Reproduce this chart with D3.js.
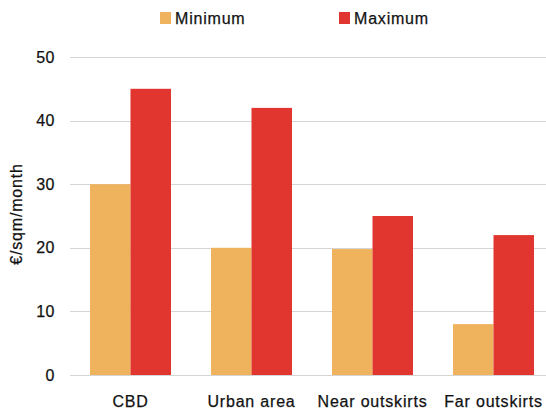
<!DOCTYPE html>
<html>
<head>
<meta charset="utf-8">
<script src="https://cdn.jsdelivr.net/npm/d3@7"></script>
<style>
  html, body { margin: 0; padding: 0; background: #fff; }
  svg { display: block; }
  text { font-family: "Liberation Sans", Arial, Helvetica, sans-serif; fill: #111; }
</style>
</head>
<body>
<svg id="chart" width="546" height="410"></svg>
<script>
// Office rent ranges by location (€/sqm/month)
const categories = ["CBD", "Urban area", "Near outskirts", "Far outskirts"];
const seriesNames = ["Minimum", "Maximum"];
const minimumValues = [30, 20, 19.8, 8];
const maximumValues = [45, 42, 25, 22];
const yTicks = [0, 10, 20, 30, 40, 50];
const yTitle = "€/sqm/month";

const colors = { Minimum: "#EFB25D", Maximum: "#E0362F" };

const rows = categories.map((c, i) => ({
  category: c,
  Minimum: minimumValues[i],
  Maximum: maximumValues[i]
}));

const svg = d3.select("#chart");
const plot = { left: 70, right: 554, top: 57, bottom: 375 };

const x = d3.scaleBand()
  .domain(categories)
  .range([plot.left, plot.right])
  .paddingInner(40 / 121)
  .paddingOuter(20 / 121);

const xSub = d3.scaleBand()
  .domain(seriesNames)
  .range([0, x.bandwidth()]);

const y = d3.scaleLinear()
  .domain([0, 50])
  .range([plot.bottom, plot.top]);

// Horizontal gridlines
svg.append("g")
  .selectAll("line")
  .data(yTicks)
  .join("line")
  .attr("x1", plot.left)
  .attr("x2", 546)
  .attr("y1", d => Math.round(y(d)) + 0.5)
  .attr("y2", d => Math.round(y(d)) + 0.5)
  .attr("stroke", "#d4d4d4")
  .attr("stroke-width", 1);

// Shared text styling: slightly heavier strokes for a Helvetica-like weight
function styleText(sel, size, spacing) {
  sel.style("font-family", "'Liberation Sans', Arial, sans-serif")
    .style("font-size", size + "px")
    .style("letter-spacing", spacing + "px")
    .attr("fill", "#111")
    .attr("stroke", "#111")
    .attr("stroke-width", 0.25);
}

// Y-axis tick labels
const yAxis = d3.axisLeft(y).tickValues(yTicks).tickSize(0).tickPadding(15);
const yg = svg.append("g")
  .attr("transform", `translate(${plot.left},0)`)
  .call(yAxis);
yg.select(".domain").remove();
yg.selectAll("text").call(styleText, 16, 0.5);

// Y-axis title
svg.append("text")
  .attr("transform", "translate(22,214) rotate(-90)")
  .attr("text-anchor", "middle")
  .call(styleText, 16, 0.8)
  .text(yTitle);

// Bars
const groups = svg.append("g")
  .selectAll("g")
  .data(rows)
  .join("g")
  .attr("transform", d => `translate(${x(d.category)},0)`);

groups.selectAll("rect")
  .data(d => seriesNames.map(s => ({ key: s, value: d[s] })))
  .join("rect")
  .attr("x", d => xSub(d.key))
  .attr("width", xSub.bandwidth())
  .attr("y", d => y(d.value))
  .attr("height", d => y(0) - y(d.value))
  .attr("fill", d => colors[d.key]);

// X-axis category labels
const xAxis = d3.axisBottom(x).tickSize(0).tickPadding(0);
const xg = svg.append("g")
  .attr("transform", `translate(0,${plot.bottom})`)
  .call(xAxis);
xg.select(".domain").remove();
xg.selectAll("text")
  .attr("y", 32)
  .attr("dy", 0)
  .call(styleText, 16, 0.8);

// Legend
const legendPos = { Minimum: 160, Maximum: 339 };
const legend = svg.append("g")
  .selectAll("g")
  .data(seriesNames)
  .join("g")
  .attr("transform", d => `translate(${legendPos[d]},0)`);

legend.append("rect")
  .attr("x", 0)
  .attr("y", 12)
  .attr("width", 11)
  .attr("height", 12)
  .attr("fill", d => colors[d]);

legend.append("text")
  .attr("x", 15)
  .attr("y", 24)
  .call(styleText, 16, 0.8)
  .text(d => d);
</script>
</body>
</html>
